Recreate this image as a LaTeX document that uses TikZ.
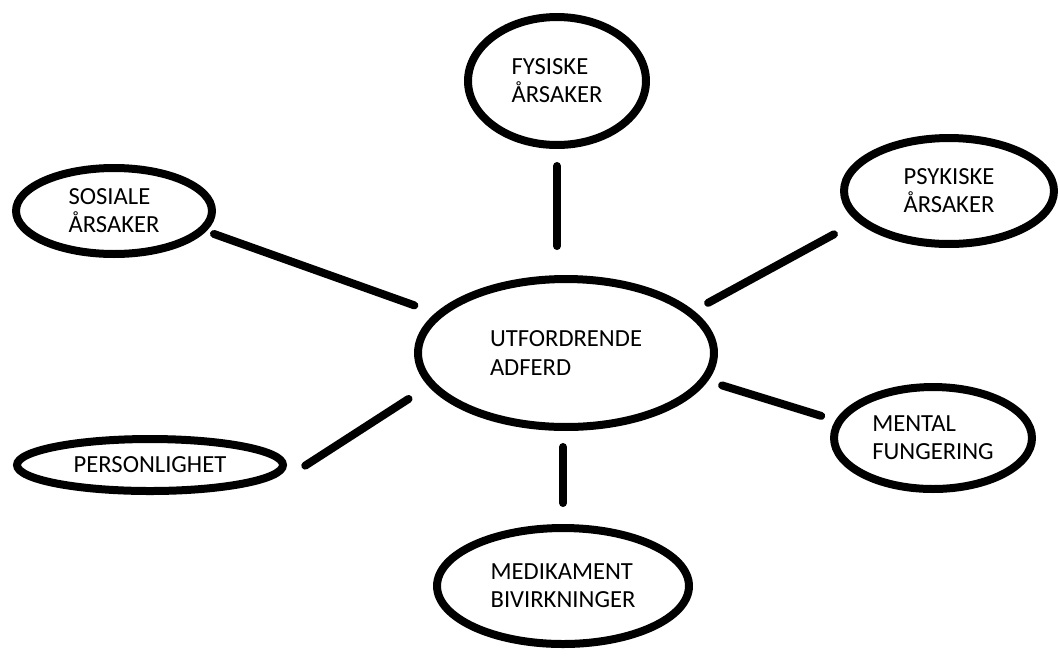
\documentclass[tikz,border=0pt]{standalone}
\usepackage{fontspec}
\setmainfont{Carlito}
\usetikzlibrary{shapes.geometric}

\begin{document}
\begin{tikzpicture}[x=0.02cm, y=-0.02cm,
		cause/.style={
			draw,
			ellipse,
			line width=0.16cm,
			inner sep=0pt,
			outer sep=0pt,
			align=left,
			font=\fontsize{14}{16}\selectfont,
		}, link/.style={line width=0.16cm, line cap=round}]
	\useasboundingbox (0,0) rectangle (1060,657);
	\node[cause, minimum width=5.92cm, minimum height=2.96cm] (adferd) at (566,353) {UTFORDRENDE\\ADFERD};
	
	\node[cause, minimum width=3.56cm, minimum height=2.56cm] (fysiske) at (557,81) {FYSISKE\\ÅRSAKER};
	\node[cause, minimum width=3.92cm, minimum height=1.72cm] (sosiale) at (114,211) {SOSIALE\\ÅRSAKER};
	\node[cause, minimum width=4.2cm, minimum height=2.12cm] (psykiske) at (949,191) {PSYKISKE\\ÅRSAKER};
	\node[cause, minimum width=5.32cm, minimum height=1.04cm] (personlighet) at (150,465) {PERSONLIGHET};
	\node[cause, minimum width=3.96cm, minimum height=2.04cm] (mental) at (933,438) {MENTAL\\FUNGERING};
	\node[cause, minimum width=5.04cm, minimum height=2.32cm] (medikament) at (563,586) {MEDIKAMENT\\BIVIRKNINGER};
	
	\draw[link, shorten <=0.42cm, shorten >=0.66cm] (fysiske.south) -- (fysiske.south |- adferd.north);
	\draw[link, shorten <=0.4cm, shorten >=0.5cm] (adferd.south -| medikament.north) -- (medikament.north);
	\draw[link, shorten <=0.25cm, shorten >=0.54cm] (sosiale.-12) -- (adferd.163);
	\draw[link, shorten <=0.53cm, shorten >=0.55cm] ([yshift=-0.3cm]personlighet.east) -- (adferd.193);
	\draw[link, shorten <=0.41cm, shorten >=0.61cm] (adferd.18) -- (psykiske.198);
	\draw[link, shorten <=0.38cm, shorten >=0.38cm] (adferd.-11) -- (mental.170);
\end{tikzpicture}
\end{document}
